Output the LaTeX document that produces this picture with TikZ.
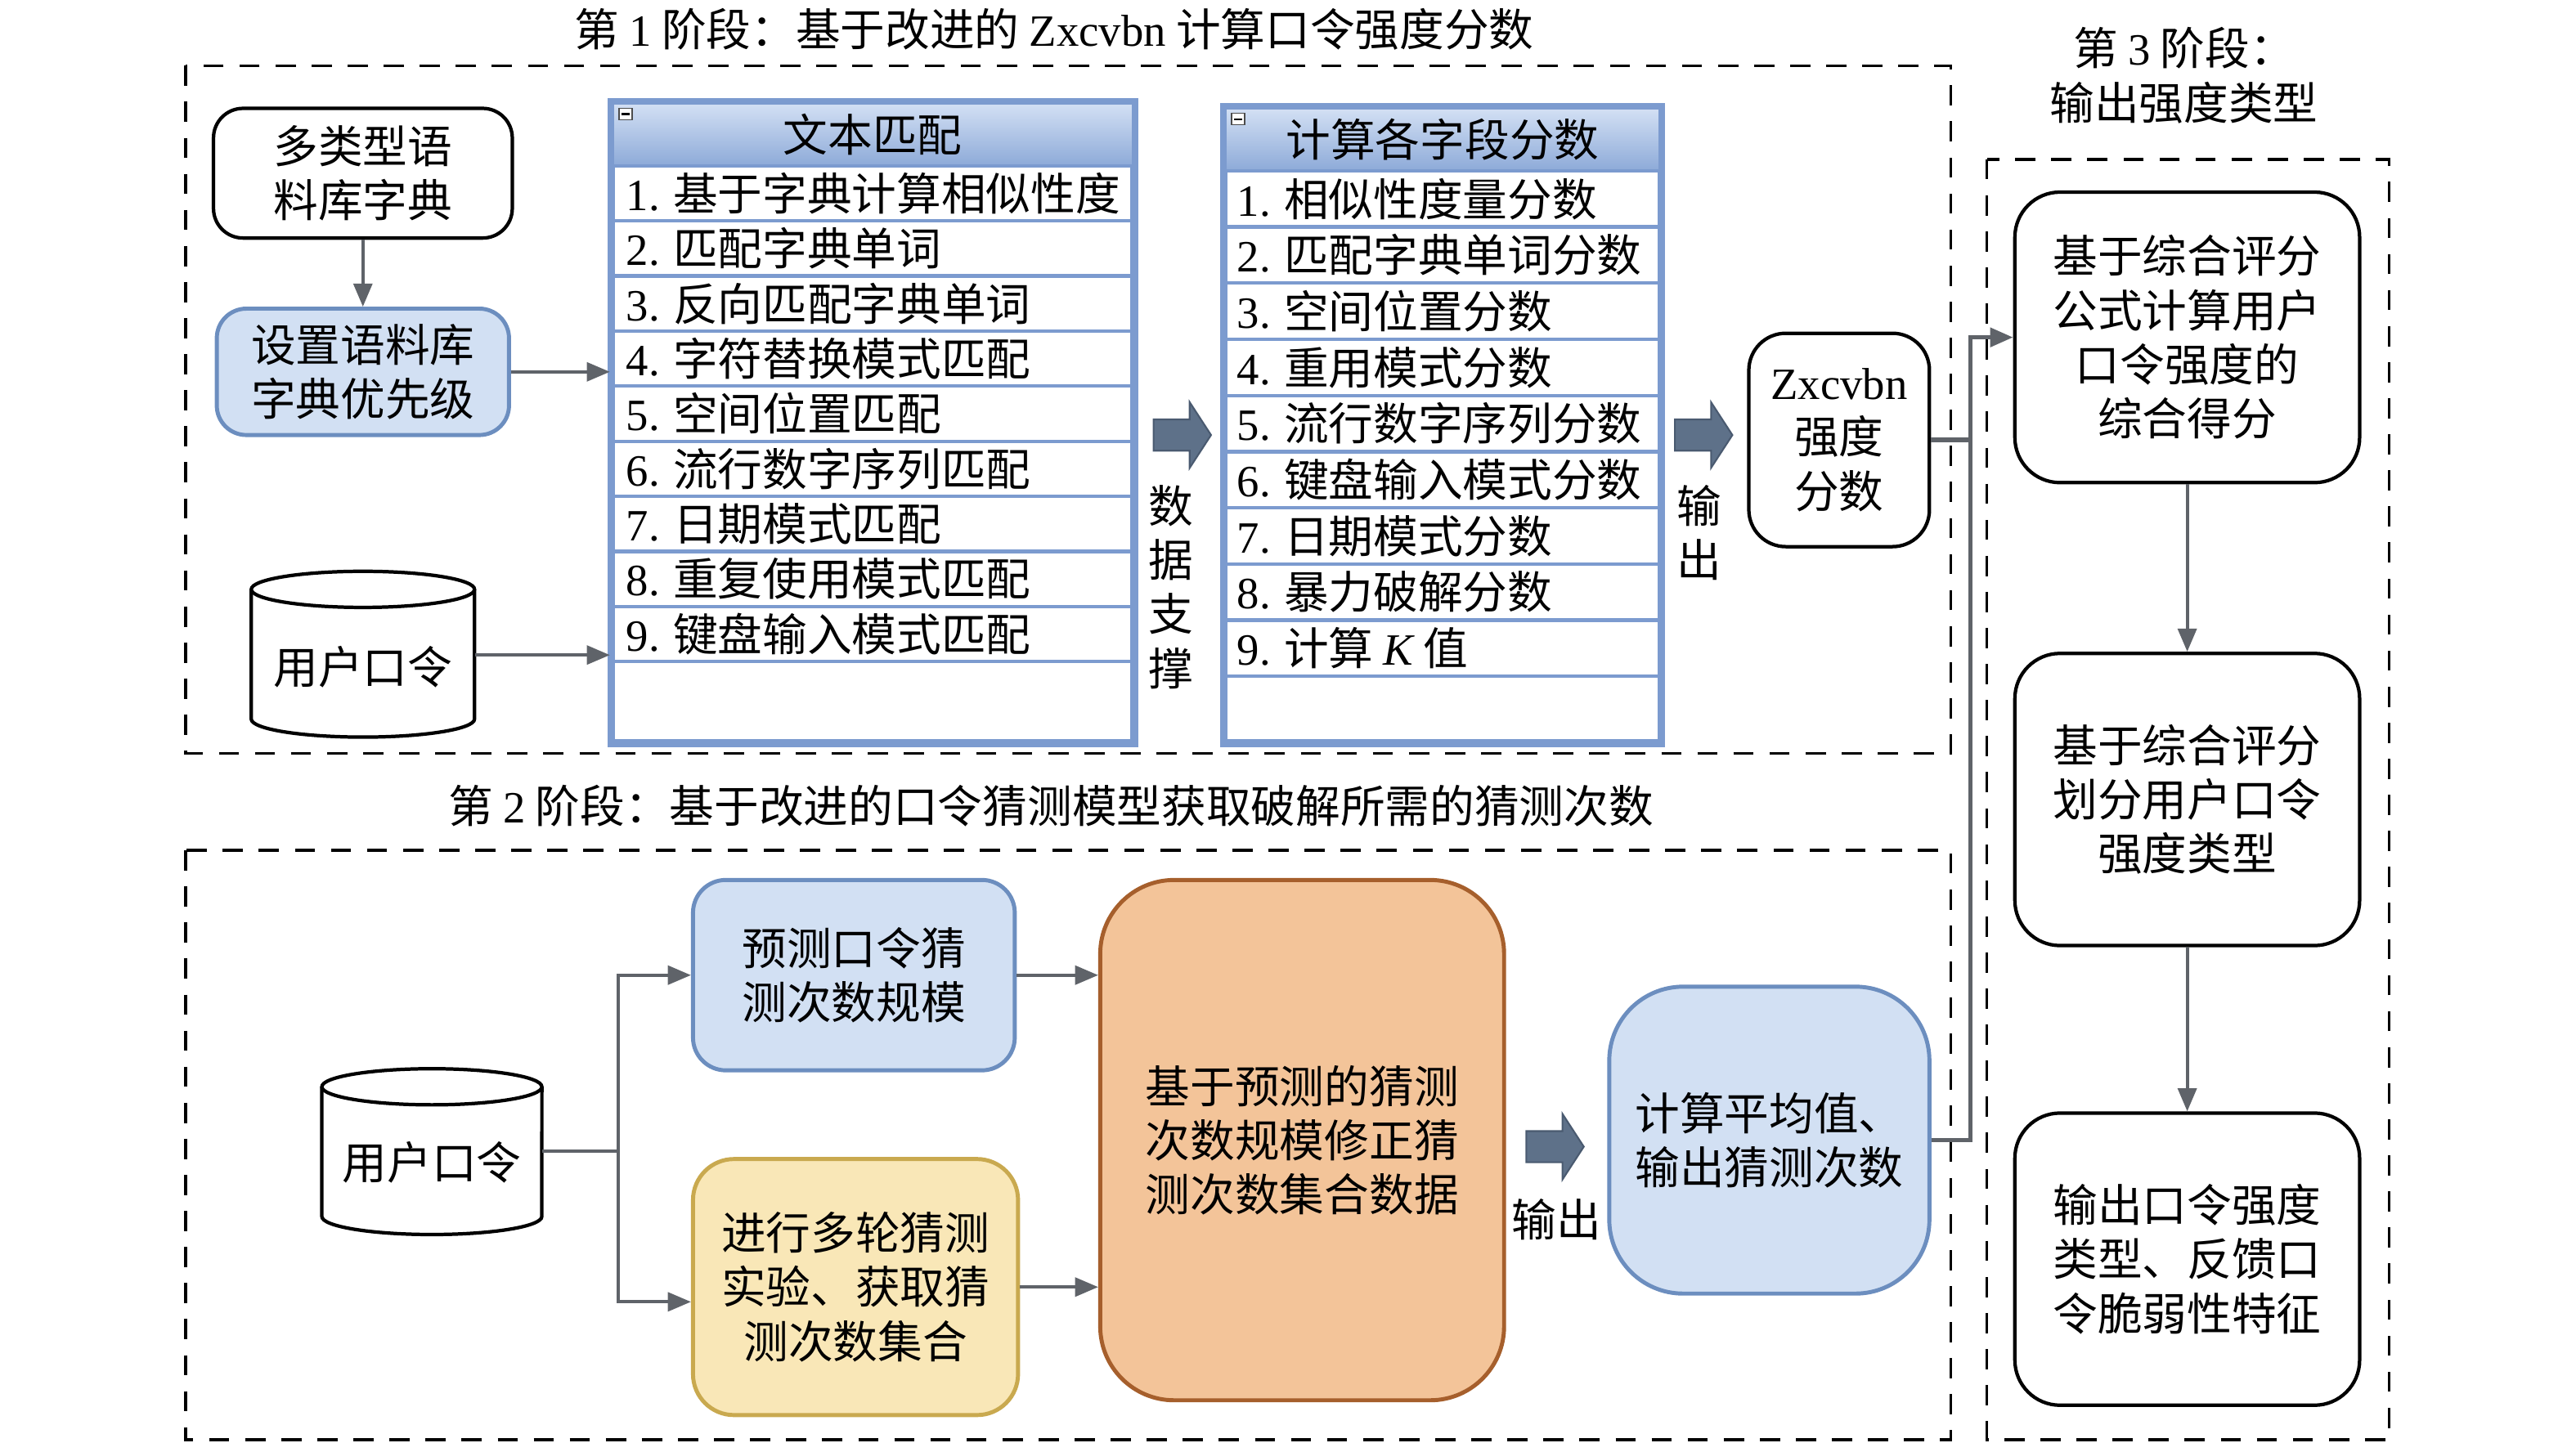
\documentclass[tikz,border=0pt]{standalone}
\usepackage{fontspec}
\setmainfont{Noto Sans CJK SC}
\newfontfamily\lat{Liberation Serif}
\usetikzlibrary{arrows.meta,fit,calc}
\definecolor{conn}{HTML}{5F6369}
\definecolor{bluef}{HTML}{D2E0F3}
\definecolor{blueb}{HTML}{6C8EBF}
\definecolor{yelf}{HTML}{F9E7B7}
\definecolor{yelb}{HTML}{C9A94F}
\definecolor{orf}{HTML}{F3C499}
\definecolor{orb}{HTML}{A65F2C}
\definecolor{fatf}{HTML}{5E7189}
\definecolor{fatb}{HTML}{4A5A70}
\definecolor{tblue}{HTML}{7C9BCF}
\definecolor{hdrtop}{HTML}{D3E0F4}
\definecolor{hdrbot}{HTML}{8DAAD8}
\tikzset{
  dbox/.style={draw=black, line width=1pt, dash pattern=on 7pt off 5.5pt},
  wnode/.style={draw=black, line width=1.2pt, fill=white, inner sep=0pt, align=center},
  bnode/.style={draw=blueb, line width=1.4pt, fill=bluef, inner sep=0pt, align=center},
  ynode/.style={draw=yelb, line width=1.4pt, fill=yelf, inner sep=0pt, align=center},
  onode/.style={draw=orb, line width=1.4pt, fill=orf, inner sep=0pt, align=center},
  txt/.style={inner sep=0pt, align=center},
  cyltxt/.style={inner sep=0pt, align=center, text height=21.7pt, text depth=1.9pt},
  rowtxt/.style={inner sep=0pt, anchor=west},
  tbl/.style={draw=tblue, line width=1.8pt, fill=white, inner sep=0pt},
  hdr/.style={draw=tblue, line width=1pt, top color=hdrtop, bottom color=hdrbot, inner sep=0pt},
  rowline/.style={draw=tblue, line width=1.2pt},
  arr/.style={draw=conn, line width=1.1pt, -{Triangle[length=8pt,width=6.5pt]}},
  arrb/.style={draw=conn, line width=1.6pt, -{Triangle[length=8pt,width=6.5pt]}},
  lineb/.style={draw=conn, line width=1.6pt},
  fat/.style={draw=fatb, fill=fatf, line width=0.6pt},
  cylst/.style={draw=black, line width=1.2pt, fill=white}
}
\newcommand\fatarr[1]{\draw[fat] (#1) ++(-17,-9.5) -- ++(22,0) -- ++(0,-10.5) -- ++(13,20) -- ++(-13,20) -- ++(0,-10.5) -- ++(-22,0) -- cycle;}
\begin{document}
\begin{tikzpicture}[x=0.02cm, y=-0.02cm, font=\fontsize{15.5pt}{18.8pt}\selectfont]
\useasboundingbox (0,0) rectangle (1568.75,879);

% ---------- stage frames and titles ----------
\draw[dbox] (113,40) rectangle (1188,459);
\draw[dbox] (113,518) rectangle (1188,877);
\draw[dbox] (1210,97) rectangle (1455,877);
\node[txt] (t1) at (642,18) {第 {\lat 1} 阶段：基于改进的 {\lat Zxcvbn} 计算口令强度分数};
\node[txt] (t2) at (640,491) {第 {\lat 2} 阶段：基于改进的口令猜测模型获取破解所需的猜测次数};
\node[txt] (t3) at (1330,46) {第 {\lat 3} 阶段：\\输出强度类型};

% ---------- stage 1, left ----------
\node[wnode, rounded corners=0.36cm, minimum width=3.64cm, minimum height=1.58cm] (dict) at (221,105.5) {多类型语\\料库字典};
\node[bnode, rounded corners=0.36cm, minimum width=3.56cm, minimum height=1.54cm] (prio) at (221,226.5) {设置语料库\\字典优先级};
\draw[arr] (dict.south) -- (prio.north);

\draw[cylst] (153,359) -- (153,438) arc[start angle=180, end angle=360, x radius=1.36cm, y radius=0.22cm] -- (289,359);
\draw[cylst] (221,359) ellipse [x radius=1.36cm, y radius=0.22cm];
\node[cyltxt, minimum width=2.72cm] (cyl1) at (221,399) {用户口令};

% ---------- table 1 ----------
\node[tbl, fit={(373,63) (690,452)}] (tbl1) {};
\node[hdr, minimum width=6.34cm, minimum height=0.76cm] (th1) at (531.5,82) {文本匹配};
\foreach \k in {1,...,9} \draw[rowline] (373,{101+33.56*\k}) -- (690,{101+33.56*\k});
\node[rowtxt] (ta1) at (381,117.8) {{\lat 1.} 基于字典计算相似性度};
\node[rowtxt] (ta2) at (381,151.3) {{\lat 2.} 匹配字典单词};
\node[rowtxt] (ta3) at (381,184.9) {{\lat 3.} 反向匹配字典单词};
\node[rowtxt] (ta4) at (381,218.4) {{\lat 4.} 字符替换模式匹配};
\node[rowtxt] (ta5) at (381,252.0) {{\lat 5.} 空间位置匹配};
\node[rowtxt] (ta6) at (381,285.6) {{\lat 6.} 流行数字序列匹配};
\node[rowtxt] (ta7) at (381,319.1) {{\lat 7.} 日期模式匹配};
\node[rowtxt] (ta8) at (381,352.7) {{\lat 8.} 重复使用模式匹配};
\node[rowtxt] (ta9) at (381,386.2) {{\lat 9.} 键盘输入模式匹配};
\draw[draw=tblue, line width=1.8pt] (tbl1.north west) rectangle (tbl1.south east);
\draw[fill=white, draw=black!70, line width=0.4pt] (377,66) rectangle (385,73);
\draw[line width=0.6pt] (378.5,69.5) -- (383.5,69.5);

\draw[arr] (prio.east) -- (prio.east -| tbl1.west);
\draw[arr] (cyl1.east) -- (cyl1.east -| tbl1.west);

% ---------- fat arrow 1 ----------
\fatarr{719.5,265}
\node[txt] (ds) at (713,357.5) {数\\据\\支\\撑};

% ---------- table 2 ----------
\node[tbl, fit={(746,66) (1011,452)}] (tbl2) {};
\node[hdr, minimum width=5.3cm, minimum height=0.76cm] (th2) at (878.5,85) {计算各字段分数};
\foreach \k in {1,...,9} \draw[rowline] (746,{104+34.22*\k}) -- (1011,{104+34.22*\k});
\node[rowtxt] (tb1) at (753,121.1) {{\lat 1.} 相似性度量分数};
\node[rowtxt] (tb2) at (753,155.3) {{\lat 2.} 匹配字典单词分数};
\node[rowtxt] (tb3) at (753,189.6) {{\lat 3.} 空间位置分数};
\node[rowtxt] (tb4) at (753,223.8) {{\lat 4.} 重用模式分数};
\node[rowtxt] (tb5) at (753,258.0) {{\lat 5.} 流行数字序列分数};
\node[rowtxt] (tb6) at (753,292.2) {{\lat 6.} 键盘输入模式分数};
\node[rowtxt] (tb7) at (753,326.4) {{\lat 7.} 日期模式分数};
\node[rowtxt] (tb8) at (753,360.7) {{\lat 8.} 暴力破解分数};
\node[rowtxt] (tb9) at (753,394.9) {{\lat 9.} 计算 {\lat\itshape K} 值};
\draw[draw=tblue, line width=1.8pt] (tbl2.north west) rectangle (tbl2.south east);
\draw[fill=white, draw=black!70, line width=0.4pt] (750,69) rectangle (758,76);
\draw[line width=0.6pt] (751.5,72.5) -- (756.5,72.5);

% ---------- fat arrow 2 and Zxcvbn ----------
\fatarr{1037,265}
\node[txt] (out1) at (1035,324.5) {输\\出};
\node[wnode, rounded corners=0.45cm, minimum width=2.2cm, minimum height=2.6cm] (zx) at (1120,268) {{\lat Zxcvbn}\\强度\\分数};

% ---------- stage 3 ----------
\node[wnode, rounded corners=0.55cm, minimum width=4.2cm, minimum height=3.54cm] (s3a) at (1332,205.5) {基于综合评分\\公式计算用户\\口令强度的\\综合得分};
\node[wnode, rounded corners=0.55cm, minimum width=4.2cm, minimum height=3.56cm] (s3b) at (1332,487) {基于综合评分\\划分用户口令\\强度类型};
\node[wnode, rounded corners=0.55cm, minimum width=4.2cm, minimum height=3.56cm] (s3c) at (1332,767) {输出口令强度\\类型、反馈口\\令脆弱性特征};
\draw[arr] (s3a.south) -- (s3b.north);
\draw[arr] (s3b.south) -- (s3c.north);

% ---------- stage 2 ----------
\draw[cylst] (196,662) -- (196,741) arc[start angle=180, end angle=360, x radius=1.34cm, y radius=0.22cm] -- (330,662);
\draw[cylst] (263,662) ellipse [x radius=1.34cm, y radius=0.22cm];
\node[cyltxt, minimum width=2.68cm] (cyl2) at (263,701) {用户口令};

\node[bnode, rounded corners=0.4cm, minimum width=3.92cm, minimum height=2.32cm] (pred) at (520,594) {预测口令猜\\测次数规模};
\node[ynode, rounded corners=0.5cm, minimum width=3.96cm, minimum height=3.12cm] (coll) at (521,784) {进行多轮猜测\\实验、获取猜\\测次数集合};
\node[onode, rounded corners=0.9cm, minimum width=4.92cm, minimum height=6.34cm] (fix) at (793,694.5) {基于预测的猜测\\次数规模修正猜\\测次数集合数据};
\node[bnode, rounded corners=0.9cm, minimum width=3.9cm, minimum height=3.74cm] (avg) at (1077.5,694.5) {计算平均值、\\输出猜测次数};

\coordinate (collin) at ($(coll.west)+(0,9)$);
\draw[arr] (cyl2.east) -- ++(46,0) |- (pred.west);
\draw[arr] (cyl2.east) -- ++(46,0) |- (collin);
\draw[arr] (pred.east) -- (pred.east -| fix.west);
\draw[arr] (coll.east) -- (coll.east -| fix.west);

\fatarr{946.5,698.5}
\node[txt] (out2) at (948,743) {输出};

% ---------- joining connector ----------
\coordinate (j) at (1200,268);
\draw[arrb] (zx.east) -- (j) |- (s3a.west);
\draw[lineb] (avg.east) -| (j);
\end{tikzpicture}
\end{document}
